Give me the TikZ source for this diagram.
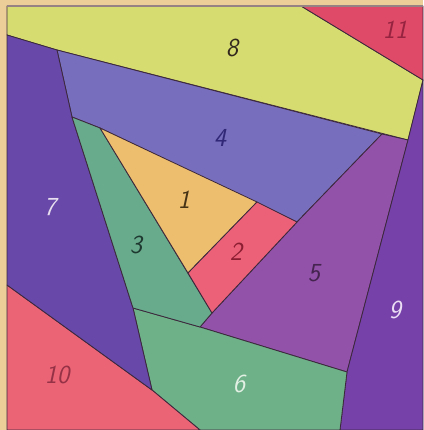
\documentclass[tikz,border=0pt]{standalone}
\usepackage{tikz}
\definecolor{bgc}{RGB}{236,206,152}
\definecolor{c8}{RGB}{214,220,112}
\definecolor{c11}{RGB}{222,74,104}
\definecolor{c4}{RGB}{120,110,190}
\definecolor{c7}{RGB}{104,72,168}
\definecolor{c3}{RGB}{104,170,140}
\definecolor{c1}{RGB}{236,190,110}
\definecolor{c2}{RGB}{236,96,120}
\definecolor{c5}{RGB}{146,82,170}
\definecolor{c9}{RGB}{118,66,170}
\definecolor{c6}{RGB}{110,176,136}
\definecolor{c10}{RGB}{234,100,118}
\definecolor{edgec}{RGB}{60,40,60}
\definecolor{framec}{RGB}{150,130,130}
\definecolor{t8}{RGB}{50,40,30}
\definecolor{t11}{RGB}{150,36,64}
\definecolor{t4}{RGB}{50,40,120}
\definecolor{t7}{RGB}{232,224,240}
\definecolor{t1}{RGB}{70,50,20}
\definecolor{t3}{RGB}{30,56,48}
\definecolor{t2}{RGB}{140,30,50}
\definecolor{t5}{RGB}{70,36,80}
\definecolor{t9}{RGB}{236,222,244}
\definecolor{t10}{RGB}{150,50,70}
\definecolor{t6}{RGB}{226,240,228}
\tikzset{
  piece/.style={fill=#1, draw=edgec, line width=0.8pt, line join=round},
  num/.style={font=\fontsize{26}{26}\selectfont\sffamily\slshape, text=#1, inner sep=0pt}
}
\begin{document}
\begin{tikzpicture}[x=1pt,y=-1pt]
\useasboundingbox (0,0) rectangle (423,430);
\fill[bgc] (0,0) rectangle (423,430);
% pieces
\filldraw[piece=c8]  (7,6) -- (301,6) -- (423,80) -- (408,140) -- (57,50) -- (7,35) -- cycle;
\filldraw[piece=c11] (301,6) -- (423,6) -- (423,80) -- cycle;
\filldraw[piece=c4]  (57,50) -- (382,134) -- (297,222) -- (100,128) -- (72,117) -- cycle;
\filldraw[piece=c5]  (382,134) -- (408,140) -- (347,372) -- (200,327) -- (212,313) -- (297,222) -- cycle;
\filldraw[piece=c9]  (408,140) -- (423,80) -- (423,430) -- (340,430) -- (347,372) -- cycle;
\filldraw[piece=c6]  (133,308) -- (200,327) -- (347,372) -- (340,430) -- (200,430) -- (152,390) -- cycle;
\filldraw[piece=c10] (7,285) -- (152,390) -- (200,430) -- (7,430) -- cycle;
\filldraw[piece=c7]  (7,35) -- (57,50) -- (72,117) -- (133,308) -- (152,390) -- (7,285) -- cycle;
\filldraw[piece=c3]  (72,117) -- (100,128) -- (212,313) -- (200,327) -- (133,308) -- cycle;
\filldraw[piece=c1]  (100,128) -- (257,202) -- (188,273) -- cycle;
\filldraw[piece=c2]  (257,202) -- (297,222) -- (212,313) -- (188,273) -- cycle;
% frame top line
\draw[line width=1.2pt, framec] (7,6) -- (423,6);
% labels
\node[num=t8]  (l8)  at (232,48)  {8};
\node[num=t11] (l11) at (395,30)  {11};
\node[num=t4]  (l4)  at (220,138) {4};
\node[num=t7]  (l7)  at (50,207)  {7};
\node[num=t1]  (l1)  at (184,200) {1};
\node[num=t3]  (l3)  at (136,245) {3};
\node[num=t2]  (l2)  at (236,252) {2};
\node[num=t5]  (l5)  at (314,273) {5};
\node[num=t9]  (l9)  at (395,310) {9};
\node[num=t10] (l10) at (57,375)  {10};
\node[num=t6]  (l6)  at (239,384) {6};
\end{tikzpicture}
\end{document}
